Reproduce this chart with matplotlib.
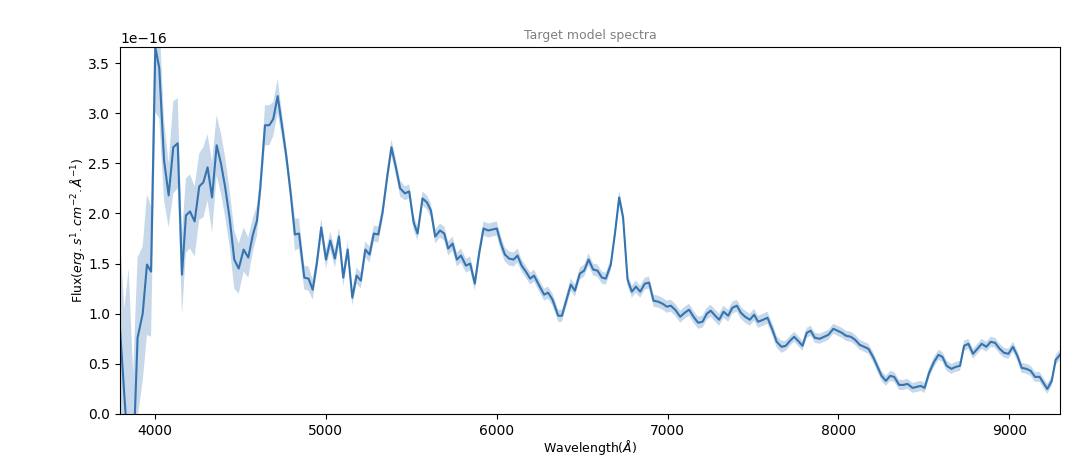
import numpy as np
import matplotlib
matplotlib.use("Agg")
import matplotlib.pyplot as plt

# wavelength samples (Angstrom)
wavelength = [
    3795, 3820, 3846, 3872, 3898, 3928, 3953, 3977, 4002, 4025,
    4053, 4080, 4107, 4133, 4158, 4181, 4205, 4232, 4259, 4283,
    4308, 4334, 4361, 4386, 4411, 4437, 4464, 4490, 4519, 4546,
    4572, 4597, 4616, 4644, 4669, 4692, 4718, 4743, 4768, 4793,
    4819, 4843, 4874, 4899, 4923, 4948, 4973, 5001, 5026, 5053,
    5077, 5102, 5128, 5155, 5180, 5205, 5231, 5256, 5281, 5307,
    5332, 5358, 5384, 5410, 5435, 5463, 5488, 5514, 5537, 5566,
    5592, 5615, 5640, 5668, 5693, 5716, 5742, 5767, 5791, 5820,
    5845, 5872, 5898, 5923, 5950, 5976, 6001, 6025, 6048, 6073,
    6099, 6122, 6146, 6171, 6196, 6219, 6249, 6278, 6301, 6327,
    6360, 6382, 6409, 6434, 6458, 6487, 6512, 6538, 6565, 6590,
    6616, 6639, 6668, 6693, 6717, 6740, 6766, 6791, 6815, 6840,
    6867, 6892, 6918, 6945, 6971, 6996, 7019, 7045, 7074, 7101,
    7126, 7152, 7179, 7205, 7230, 7253, 7279, 7302, 7328, 7355,
    7380, 7406, 7429, 7454, 7482, 7507, 7530, 7560, 7585, 7614,
    7639, 7667, 7692, 7717, 7741, 7764, 7790, 7815, 7838, 7862,
    7891, 7916, 7942, 7971, 7995, 8020, 8045, 8073, 8098, 8125,
    8151, 8176, 8203, 8229, 8253, 8278, 8303, 8327, 8356, 8381,
    8405, 8434, 8459, 8482, 8505, 8531, 8560, 8586, 8609, 8634,
    8662, 8687, 8712, 8736, 8761, 8788, 8814, 8839, 8866, 8892,
    8917, 8944, 8970, 8995, 9022, 9048, 9073, 9101, 9126, 9151,
    9178, 9200, 9223, 9249, 9272, 9297,
]

# flux in units of 1e-16 erg/s/cm2/A
flux = [
    0.86, 0.20, -0.45, -0.50, 0.76, 1.00, 1.49, 1.42, 3.66, 3.45,
    2.53, 2.18, 2.66, 2.70, 1.39, 1.98, 2.02, 1.92, 2.27, 2.31,
    2.46, 2.16, 2.68, 2.50, 2.26, 1.95, 1.54, 1.45, 1.64, 1.56,
    1.78, 1.93, 2.25, 2.88, 2.88, 2.94, 3.17, 2.88, 2.58, 2.22,
    1.79, 1.80, 1.36, 1.35, 1.24, 1.51, 1.86, 1.54, 1.73, 1.55,
    1.77, 1.36, 1.64, 1.16, 1.38, 1.33, 1.64, 1.59, 1.80, 1.79,
    2.01, 2.35, 2.66, 2.46, 2.25, 2.20, 2.22, 1.91, 1.80, 2.15,
    2.11, 2.03, 1.77, 1.83, 1.80, 1.65, 1.70, 1.54, 1.58, 1.48,
    1.50, 1.30, 1.61, 1.85, 1.83, 1.84, 1.85, 1.70, 1.59, 1.55,
    1.54, 1.58, 1.48, 1.42, 1.35, 1.38, 1.28, 1.19, 1.21, 1.14,
    0.98, 0.98, 1.14, 1.29, 1.23, 1.40, 1.43, 1.54, 1.44, 1.43,
    1.36, 1.35, 1.49, 1.81, 2.16, 1.96, 1.34, 1.22, 1.27, 1.22,
    1.30, 1.31, 1.13, 1.12, 1.10, 1.07, 1.08, 1.04, 0.97, 1.01,
    1.04, 0.97, 0.91, 0.92, 1.00, 1.03, 0.98, 0.94, 1.02, 0.98,
    1.06, 1.08, 1.01, 0.97, 0.94, 0.99, 0.92, 0.94, 0.96, 0.84,
    0.72, 0.67, 0.68, 0.73, 0.77, 0.73, 0.68, 0.81, 0.83, 0.76,
    0.75, 0.77, 0.79, 0.85, 0.83, 0.81, 0.78, 0.77, 0.74, 0.69,
    0.67, 0.65, 0.57, 0.47, 0.38, 0.33, 0.38, 0.37, 0.29, 0.29,
    0.30, 0.26, 0.27, 0.28, 0.26, 0.41, 0.52, 0.59, 0.57, 0.48,
    0.45, 0.47, 0.48, 0.68, 0.70, 0.60, 0.65, 0.70, 0.67, 0.72,
    0.71, 0.65, 0.61, 0.60, 0.67, 0.58, 0.46, 0.45, 0.43, 0.37,
    0.37, 0.31, 0.25, 0.33, 0.54, 0.59,
]

# half-width of the shaded uncertainty band, same units
flux_err = [
    0.90, 0.85, 1.90, 0.90, 0.80, 0.67, 0.70, 0.65, 0.65, 0.50,
    0.40, 0.32, 0.46, 0.45, 0.40, 0.37, 0.37, 0.35, 0.33, 0.35,
    0.33, 0.35, 0.30, 0.30, 0.30, 0.28, 0.29, 0.25, 0.22, 0.20,
    0.17, 0.15, 0.13, 0.20, 0.20, 0.17, 0.17, 0.12, 0.10, 0.10,
    0.16, 0.15, 0.12, 0.12, 0.10, 0.09, 0.09, 0.09, 0.09, 0.09,
    0.09, 0.09, 0.08, 0.08, 0.08, 0.08, 0.08, 0.08, 0.08, 0.08,
    0.08, 0.08, 0.08, 0.08, 0.08, 0.07, 0.07, 0.07, 0.07, 0.07,
    0.07, 0.07, 0.07, 0.07, 0.07, 0.07, 0.07, 0.07, 0.07, 0.07,
    0.07, 0.07, 0.07, 0.07, 0.07, 0.07, 0.07, 0.07, 0.07, 0.07,
    0.07, 0.07, 0.06, 0.06, 0.06, 0.06, 0.06, 0.06, 0.06, 0.06,
    0.06, 0.06, 0.06, 0.06, 0.06, 0.06, 0.06, 0.06, 0.06, 0.06,
    0.06, 0.06, 0.06, 0.06, 0.07, 0.06, 0.06, 0.06, 0.06, 0.06,
    0.06, 0.06, 0.06, 0.06, 0.06, 0.06, 0.06, 0.06, 0.06, 0.06,
    0.06, 0.06, 0.06, 0.06, 0.06, 0.06, 0.06, 0.06, 0.06, 0.06,
    0.06, 0.06, 0.06, 0.06, 0.06, 0.06, 0.06, 0.06, 0.06, 0.06,
    0.06, 0.06, 0.05, 0.05, 0.05, 0.05, 0.05, 0.05, 0.05, 0.05,
    0.05, 0.05, 0.05, 0.05, 0.05, 0.05, 0.05, 0.05, 0.05, 0.05,
    0.05, 0.05, 0.05, 0.05, 0.05, 0.05, 0.05, 0.05, 0.05, 0.05,
    0.05, 0.05, 0.05, 0.05, 0.05, 0.05, 0.05, 0.05, 0.05, 0.05,
    0.05, 0.05, 0.05, 0.05, 0.05, 0.05, 0.05, 0.05, 0.05, 0.05,
    0.05, 0.05, 0.05, 0.05, 0.05, 0.05, 0.05, 0.05, 0.05, 0.05,
    0.05, 0.05, 0.05, 0.05, 0.05, 0.05,
]


def graph():
    wl = np.array(wavelength, dtype=float)
    f = np.array(flux) * 1e-16
    err = np.array(flux_err) * 1e-16

    fig = plt.figure(figsize=(10.75, 4.61), dpi=100)
    ax = fig.add_axes([0.1116, 0.102, 0.8744, 0.796])

    color = "#3574b0"
    ax.fill_between(wl, f - err, f + err, color=color, alpha=0.28, linewidth=0)
    ax.plot(wl, f, color=color, linewidth=1.5)

    ax.set_xlim(wl.min(), wl.max())
    ax.set_ylim(0, f.max())
    ax.set_title("Target model spectra", fontsize=9, color="gray")
    ax.set_xlabel(r"Wavelength($\AA$)", fontsize=9, labelpad=0)
    ax.set_ylabel(r"Flux($erg.s^1.cm^{-2}.\AA^{-1}$)", fontsize=9, labelpad=1)

    fig.savefig("out.png", dpi=100)


if __name__ == "__main__":
    graph()
